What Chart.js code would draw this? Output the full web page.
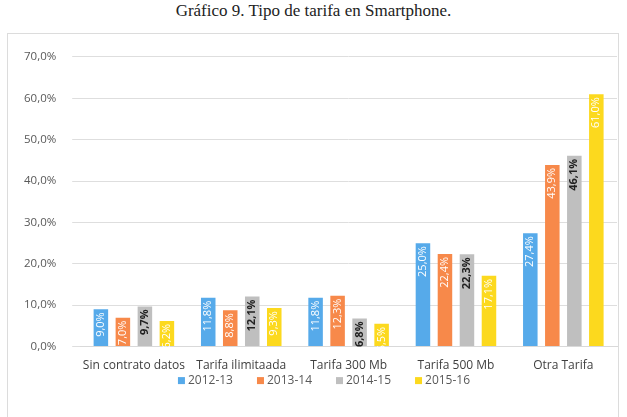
<!DOCTYPE html>
<html>
<head>
<meta charset="utf-8">
<script src="https://cdn.jsdelivr.net/npm/chart.js@4.4.0/dist/chart.umd.min.js"></script>
<style>
  body { margin: 0; background: #fff; width: 627px; height: 417px; overflow: hidden; position: relative; }
  #titulo { position: absolute; top: 1px; left: 0; width: 627px; text-align: center;
    font-family: "Liberation Serif", "DejaVu Serif", serif; font-size: 17px; color: #222; }
  #caja { position: absolute; left: 7px; top: 33px; width: 612px; height: 390px;
    border: 1px solid #dcdcdc; box-sizing: border-box; }
  canvas { display: block; }
</style>
</head>
<body>
<div id="titulo">Gráfico 9. Tipo de tarifa en Smartphone.</div>
<div id="caja"><canvas id="grafico" width="610" height="372"></canvas></div>
<script>
const categorias = ["Sin contrato datos", "Tarifa ilimitaada", "Tarifa 300 Mb", "Tarifa 500 Mb", "Otra Tarifa"];
const cursos = ["2012-13", "2013-14", "2014-15", "2015-16"];
const v2012 = [9.0, 11.8, 11.8, 25.0, 27.4];
const v2013 = [7.0, 8.8, 12.3, 22.4, 43.9];
const v2014 = [9.7, 12.1, 6.8, 22.3, 46.1];
const v2015 = [6.2, 9.3, 5.5, 17.1, 61.0];
const colores = ["#56aaea", "#f7894a", "#bfbfbf", "#fcd91e"];
const colorEtiqueta = ["#ffffff", "#ffffff", "#222222", "#ffffff"];

const fmt = v => v.toFixed(1).replace('.', ',') + '%';

// etiquetas giradas dentro de cada barra
const etiquetas = {
  id: 'etiquetas',
  afterDatasetsDraw(chart) {
    const ctx = chart.ctx;
    chart.data.datasets.forEach((ds, i) => {
      chart.getDatasetMeta(i).data.forEach((bar, j) => {
        ctx.save();
        ctx.translate(bar.x, bar.y + 3);
        ctx.rotate(-Math.PI / 2);
        ctx.textAlign = 'right';
        ctx.textBaseline = 'middle';
        ctx.font = (i === 2 ? 'bold ' : '') + '11px "Open Sans"';
        ctx.fillStyle = colorEtiqueta[i];
        ctx.fillText(fmt(ds.data[j]), 0, 0);
        ctx.restore();
      });
    });
  }
};

// leyenda abajo, más espaciada que la de Chart.js
const leyenda = {
  id: 'leyenda',
  afterDraw(chart) {
    const ctx = chart.ctx;
    ctx.save();
    ctx.font = '12px "Open Sans"';
    ctx.textBaseline = 'middle';
    const gap = 24, caja = 7;
    const anchos = chart.data.datasets.map(ds => caja + 3 + ctx.measureText(ds.label).width);
    const total = anchos.reduce((a, b) => a + b, 0) + gap * (anchos.length - 1);
    let x = 316 - total / 2;
    const y = chart.chartArea.bottom + 34;
    chart.data.datasets.forEach((ds, i) => {
      ctx.fillStyle = ds.backgroundColor;
      ctx.fillRect(x, y - caja / 2, caja, caja);
      ctx.fillStyle = '#595959';
      ctx.fillText(ds.label, x + caja + 3, y);
      x += anchos[i] + gap;
    });
    ctx.restore();
  }
};

new Chart(document.getElementById("grafico"), {
  type: 'bar',
  data: {
    labels: categorias,
    datasets: [v2012, v2013, v2014, v2015].map((d, i) => ({
      label: cursos[i],
      data: d,
      backgroundColor: colores[i],
      barPercentage: 0.66,
      categoryPercentage: 0.82
    }))
  },
  options: {
    responsive: false,
    animation: false,
    devicePixelRatio: 1,
    layout: { padding: { top: 18, right: 1, bottom: 29, left: 0 } },
    scales: {
      x: {
        grid: { display: false },
        border: { color: '#d9d9d9' },
        ticks: { color: '#404040', font: { family: 'Open Sans', size: 12 }, padding: 4, maxRotation: 0 }
      },
      y: {
        min: 0, max: 70,
        ticks: { stepSize: 10, callback: v => fmt(v), color: '#595959',
          font: { family: 'Open Sans', size: 11.5 }, padding: 16 },
        grid: { color: '#dedede' },
        border: { display: false }
      }
    },
    plugins: {
      legend: { display: false },
      tooltip: { enabled: false }
    }
  },
  plugins: [etiquetas, leyenda]
});
</script>
</body>
</html>
